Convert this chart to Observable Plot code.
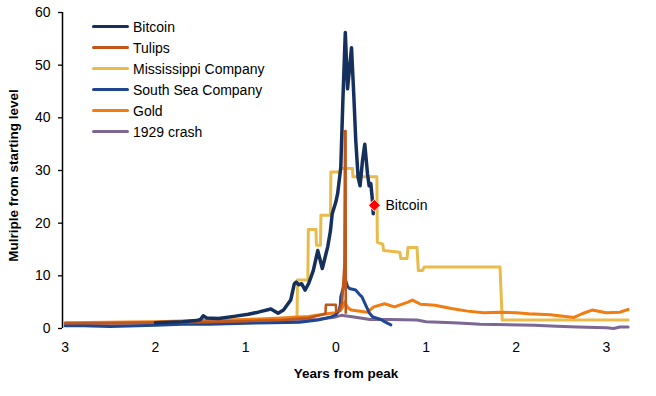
<!DOCTYPE html>
<html><head><meta charset="utf-8">
<script src="https://cdn.jsdelivr.net/npm/d3@7"></script>
<script src="https://cdn.jsdelivr.net/npm/@observablehq/plot@0.6"></script>
<style>
body{margin:0;background:#fff;font-family:"Liberation Sans",Arial,sans-serif;}
#wrap{position:relative;width:656px;height:396px;}
#legend{position:absolute;left:92px;top:16px;font-size:14px;color:#000;}
.row{display:flex;align-items:center;height:21px;}
.sw{width:37px;height:3.5px;margin-right:4px;border-radius:2px;}
</style></head><body><div id="wrap"><div id="legend"></div></div>
<script>
// ---- data (years from peak, multiple of starting level) ----
const seriesNames = ["Bitcoin", "Tulips", "Mississippi Company", "South Sea Company", "Gold", "1929 crash"];
const seriesColors = ["#16305e", "#c0561a", "#e8bb4b", "#1f4690", "#f07c12", "#7d6894"];

const bitcoinX = [-2.0, -1.85, -1.7, -1.55, -1.5, -1.47, -1.43, -1.3, -1.13, -0.97, -0.86, -0.72, -0.64, -0.58, -0.5, -0.46, -0.44, -0.41, -0.38, -0.34, -0.30, -0.25, -0.20, -0.15, -0.09, -0.06, -0.04, 0.0, 0.02, 0.055, 0.078, 0.105, 0.13, 0.174, 0.2, 0.221, 0.247, 0.269, 0.296, 0.321, 0.351, 0.369, 0.388, 0.406, 0.415];
const bitcoinY = [1.1, 1.2, 1.3, 1.5, 1.7, 2.4, 2.0, 1.9, 2.3, 2.7, 3.1, 3.7, 2.9, 3.5, 5.4, 8.5, 8.8, 8.3, 8.5, 7.3, 8.6, 11.0, 14.8, 11.4, 15.5, 18.5, 21.8, 24.0, 25.6, 30.6, 43.2, 56.2, 45.5, 53.3, 44.0, 35.7, 28.7, 27.1, 31.9, 35.0, 29.4, 27.1, 27.5, 24.3, 21.8];

const tulipsX = [-3.0, -2.5, -2.0, -1.5, -1.0, -0.6, -0.3, -0.115, -0.11, 0.0, 0.005, 0.04, 0.07, 0.095, 0.102, 0.108, 0.11];
const tulipsY = [1.0, 1.0, 1.1, 1.2, 1.4, 1.6, 2.0, 2.8, 4.5, 4.5, 3.2, 3.4, 5.0, 12.0, 37.5, 37.5, 3.0];

const mississippiX = [-3.0, -2.0, -1.0, -0.6, -0.43, -0.425, -0.31, -0.305, -0.22, -0.215, -0.17, -0.165, -0.06, -0.055, 0.05, 0.055, 0.185, 0.19, 0.455, 0.46, 0.52, 0.53, 0.71, 0.72, 0.79, 0.8, 0.9, 0.915, 0.96, 0.98, 1.82, 1.845, 3.24];
const mississippiY = [1.0, 1.1, 1.3, 1.6, 2.3, 9.2, 9.2, 18.8, 18.8, 15.8, 15.8, 21.5, 21.5, 29.7, 29.7, 30.4, 30.4, 28.8, 28.8, 16.4, 16.0, 14.8, 14.5, 13.3, 13.3, 15.4, 15.4, 11.0, 11.0, 11.7, 11.7, 1.6, 1.6];

const southSeaX = [-3.0, -2.8, -2.5, -2.2, -2.0, -1.7, -1.4, -1.0, -0.7, -0.4, -0.2, -0.05, 0.0, 0.037, 0.05, 0.055, 0.085, 0.11, 0.13, 0.15, 0.22, 0.26, 0.29, 0.33, 0.37, 0.41, 0.5, 0.55, 0.61];
const southSeaY = [0.5, 0.5, 0.4, 0.5, 0.6, 0.8, 0.8, 1.0, 1.1, 1.2, 1.6, 2.2, 2.6, 3.5, 4.5, 6.0, 7.9, 9.1, 8.0, 7.6, 7.3, 6.5, 6.0, 4.5, 3.0, 2.2, 1.7, 1.2, 0.7];

const goldX = [-3.0, -2.5, -2.0, -1.5, -1.0, -0.6, -0.3, -0.1, 0.0, 0.05, 0.08, 0.1, 0.13, 0.17, 0.35, 0.42, 0.54, 0.65, 0.8, 0.85, 0.94, 1.1, 1.28, 1.46, 1.64, 1.83, 2.0, 2.14, 2.38, 2.64, 2.73, 2.84, 3.0, 3.15, 3.24];
const goldY = [1.1, 1.2, 1.3, 1.5, 1.7, 2.0, 2.3, 2.8, 3.0, 3.4, 4.2, 5.0, 4.0, 3.5, 3.1, 4.1, 4.7, 4.1, 5.0, 5.4, 4.6, 4.4, 3.8, 3.3, 3.0, 3.1, 3.0, 2.8, 2.6, 2.1, 2.8, 3.5, 3.0, 3.1, 3.6];

const crash1929X = [-3.0, -2.5, -2.0, -1.5, -1.0, -0.5, -0.2, 0.0, 0.06, 0.2, 0.38, 0.6, 0.9, 1.0, 1.3, 1.46, 1.6, 2.2, 2.45, 2.68, 3.0, 3.08, 3.15, 3.24];
const crash1929Y = [0.9, 1.0, 1.1, 1.2, 1.3, 1.5, 1.7, 2.2, 2.5, 2.2, 1.7, 1.7, 1.6, 1.3, 1.1, 0.95, 0.8, 0.63, 0.45, 0.3, 0.15, 0.0, 0.3, 0.3];

const markerX = [0.428];
const markerY = [23.4];
const markerLabel = ["Bitcoin"];

const xTicks = [-3, -2, -1, 0, 1, 2, 3];
const yTicks = [0, 10, 20, 30, 40, 50, 60];
const xDomain = [-3.03, 3.3];
const yDomain = [0, 60];
const yLabel = "Mulriple from starting level";
const xLabel = "Years from peak";

// ---- build table ----
const xs = [bitcoinX, tulipsX, mississippiX, southSeaX, goldX, crash1929X];
const ys = [bitcoinY, tulipsY, mississippiY, southSeaY, goldY, crash1929Y];
const rows = [];
seriesNames.forEach((name, i) => xs[i].forEach((x, j) => rows.push({series: name, x, y: ys[i][j]})));
const markers = markerX.map((x, i) => ({x, y: markerY[i], label: markerLabel[i]}));

const widths = {"Bitcoin": 3.5, "Tulips": 2.6, "Mississippi Company": 3, "South Sea Company": 3, "Gold": 3, "1929 crash": 3};
const drawOrder = ["Mississippi Company", "Gold", "1929 crash", "South Sea Company", "Tulips", "Bitcoin"];
const color = name => seriesColors[seriesNames.indexOf(name)];

const font = '"Liberation Sans", Arial, sans-serif';
const chart = Plot.plot({
  width: 656, height: 396,
  marginLeft: 62, marginRight: 23, marginTop: 12, marginBottom: 68,
  style: {fontFamily: font, fontSize: "14px", background: "white", color: "#000", overflow: "visible"},
  x: {domain: xDomain},
  y: {domain: yDomain},
  marks: [
    Plot.axisX({ticks: xTicks, tickSize: 0, tickPadding: 14, tickFormat: d => Math.abs(d), label: null, fontSize: 14}),
    Plot.axisY({ticks: yTicks, tickSize: 4, tickPadding: 8, label: null, fontSize: 14, strokeWidth: 1.3}),
    Plot.ruleX([xDomain[0]], {stroke: "#000", strokeWidth: 1.5}),
    ...drawOrder.map(name => Plot.line(rows.filter(r => r.series === name), {
      x: "x", y: "y", stroke: color(name), strokeWidth: widths[name], strokeLinejoin: "round", strokeLinecap: "round"
    })),
    Plot.dot(markers, {x: "x", y: "y", symbol: "diamond2", r: 5.4, fill: "#ff0000", stroke: "#fff", strokeWidth: 1}),
    Plot.text(markers, {x: "x", y: "y", text: "label", dx: 11, textAnchor: "start", fontSize: 14, fill: "#000"}),
    Plot.text([yLabel], {text: d => d, frameAnchor: "left", textAnchor: "middle", dx: -49, dy: 5, rotate: -90, fontWeight: "bold", fontSize: 13.5, lineAnchor: "middle", fill: "#000"}),
    Plot.text([xLabel], {text: d => d, frameAnchor: "bottom", textAnchor: "middle", dx: -2, dy: 45, fontWeight: "bold", fontSize: 13.5, lineAnchor: "middle", fill: "#000"})
  ]
});
document.getElementById("wrap").prepend(chart);

// ---- legend ----
const legend = document.getElementById("legend");
seriesNames.forEach((name, i) => {
  const row = document.createElement("div");
  row.className = "row";
  const sw = document.createElement("span");
  sw.className = "sw";
  sw.style.background = seriesColors[i];
  const t = document.createElement("span");
  t.textContent = name;
  row.append(sw, t);
  legend.append(row);
});
</script></body></html>
